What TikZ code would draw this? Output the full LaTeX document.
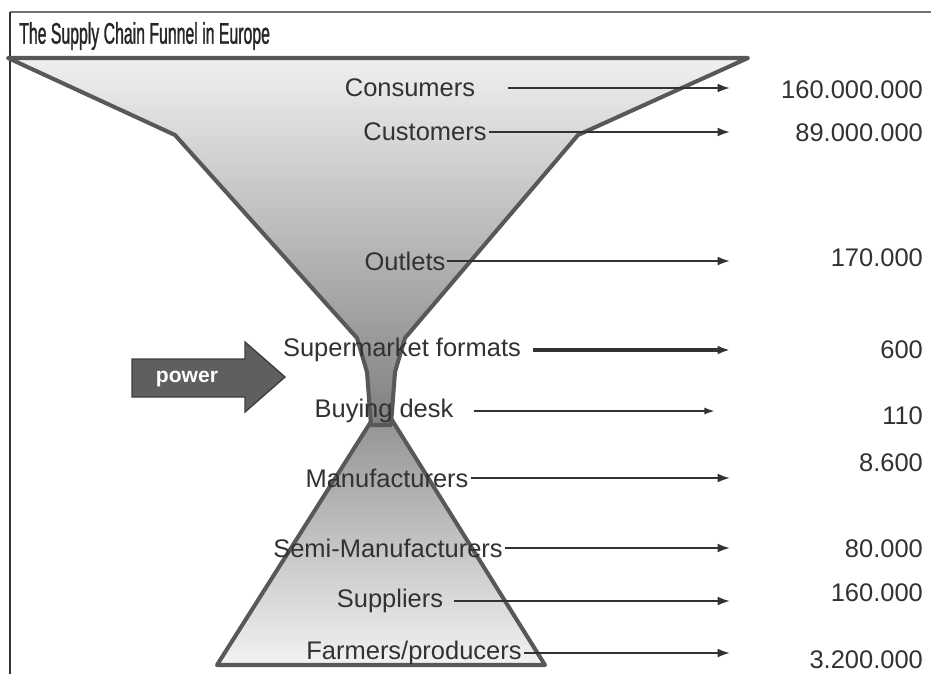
\documentclass[tikz,border=0pt]{standalone}
\usepackage{fontspec}
\setmainfont{Liberation Sans}
\newfontfamily\titlefont[FakeStretch=0.53,FakeBold=1]{Liberation Sans}
\usetikzlibrary{arrows.meta,positioning}
\definecolor{funneledge}{RGB}{88,88,88}
\definecolor{labelgray}{RGB}{50,50,50}
\definecolor{powergray}{RGB}{95,95,95}

\begin{document}
\begin{tikzpicture}[x=0.02cm, y=-0.02cm,
    stage/.style={font=\fontsize{14.5}{17}\selectfont, text=labelgray, inner sep=1pt},
    count/.style={font=\fontsize{14.5}{17}\selectfont, text=labelgray, anchor=east, inner sep=1pt},
    flow/.style={-{Latex[length=7pt,width=5pt]}, line width=1.1pt, labelgray},
    funnel/.style={draw=funneledge, line width=2.3pt, line join=round}
]
\useasboundingbox[fill=white] (0,0) rectangle (931,674);
\draw[black!55, line width=0.6pt] (10,12) -- (931,12);
\draw[black!80, line width=1pt] (10,12) -- (10,674);

\node[font=\titlefont\fontsize{17}{20}\selectfont, text=black!85, anchor=west] (title) at (13,36) {The Supply Chain Funnel in Europe};

\path[funnel, top color=black!42, bottom color=black!5]
    (372,420) -- (392,420) -- (545,665) -- (217,665) -- cycle;
\path[funnel, top color=black!6, bottom color=black!50]
    (8,58) -- (748,58) -- (578,135) -- (405,338) -- (395,372) -- (391,425)
    -- (371,425) -- (367,372) -- (357,338) -- (175,135) -- cycle;

\draw[fill=powergray, draw=black!75, line width=0.8pt]
    (132,359) -- (245,359) -- (245,342) -- (285,377) -- (245,412) -- (245,397) -- (132,397) -- cycle;
\node[font=\fontsize{12}{14}\selectfont\bfseries, text=white] (power) at (187,379) {power};

\node[stage] (consumers) at (410,88) {Consumers};
\node[stage] (customers) at (425,132) {Customers};
\node[stage] (outlets) at (405,261) {Outlets};
\node[stage] (formats) at (402,350) {Supermarket formats};
\node[stage] (desk) at (384,411) {Buying desk};
\node[stage] (manuf) at (387,478) {Manufacturers};
\node[stage] (semi) at (388,548) {Semi-Manufacturers};
\node[stage] (suppliers) at (390,601) {Suppliers};
\node[stage] (farmers) at (414,653) {Farmers/producers};

\coordinate (tip) at (730,0);
\coordinate (shorttip) at (715,0);

\draw[flow, shorten <=0.62cm] (consumers.east) -- (consumers.east -| tip);
\draw[flow] (customers.east) -- (customers.east -| tip);
\draw[flow] (outlets.east) -- (outlets.east -| tip);
\draw[flow, line width=2.2pt, shorten <=0.2cm] (formats.east) -- (formats.east -| tip);
\draw[flow, -{Latex[length=6pt,width=4pt]}, shorten <=0.36cm] (desk.east) -- (desk.east -| shorttip);
\draw[flow] (manuf.east) -- (manuf.east -| tip);
\draw[flow] (semi.east) -- (semi.east -| tip);
\draw[flow, shorten <=0.18cm] (suppliers.east) -- (suppliers.east -| tip);
\draw[flow] (farmers.east) -- (farmers.east -| tip);

\node[count] (consumers-n) at (925,90) {160.000.000};
\node[count] (customers-n) at (925,133) {89.000.000};
\node[count] (outlets-n) at (925,258) {170.000};
\node[count] (formats-n) at (925,350) {600};
\node[count] (desk-n) at (925,416) {110};
\node[count] (manuf-n) at (925,463) {8.600};
\node[count] (semi-n) at (925,549) {80.000};
\node[count] (suppliers-n) at (925,593) {160.000};
\node[count] (farmers-n) at (925,660) {3.200.000};
\end{tikzpicture}
\end{document}
